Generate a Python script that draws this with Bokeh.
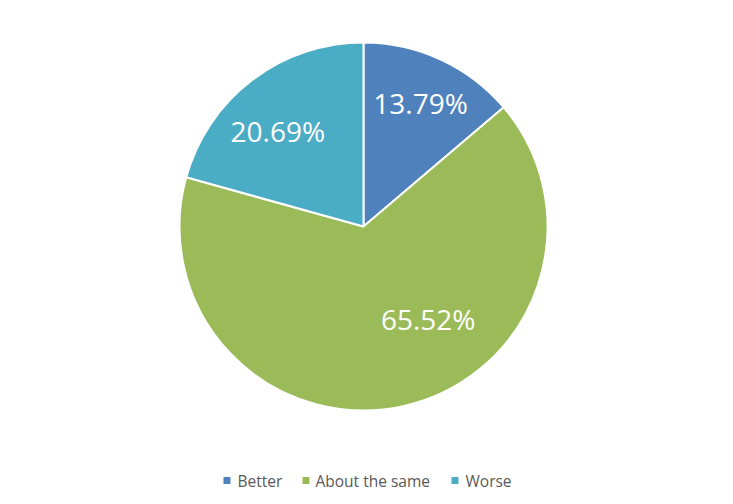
import math
from bokeh.plotting import figure
from bokeh.models import Range1d, ColumnDataSource
from bokeh.core.properties import value
from bokeh.embed import file_html
from bokeh.resources import INLINE

# ---- data ----
categories = ["Better", "About the same", "Worse"]
shares = [13.79, 65.52, 20.69]
colors = ["#4F81BD", "#9BBB59", "#4BACC6"]

# ---- layout ----
W, H = 733, 504
cx, cy, R = 363, 278, 184
label_r = [136, 113, 128]
label_shift_deg = [0.0, -22.5, -4.8]
legend_sq_x = [226.5, 305.5, 454.5]
legend_tx_x = [237, 315, 465]
legend_y = 24

total = sum(shares)
starts, ends, lx, ly, texts = [], [], [], [], []
acc = 0.0
for i, s in enumerate(shares):
    a0 = math.pi / 2 - 2 * math.pi * acc / total
    a1 = math.pi / 2 - 2 * math.pi * (acc + s) / total
    starts.append(a0)
    ends.append(a1)
    mid = (a0 + a1) / 2 - math.radians(label_shift_deg[i])
    lx.append(cx + label_r[i] * math.cos(mid))
    ly.append(cy + label_r[i] * math.sin(mid))
    texts.append(f"{s:.2f}%")
    acc += s

src = ColumnDataSource(dict(start=starts, end=ends, color=colors,
                            lx=lx, ly=ly, txt=texts,
                            sqx=legend_sq_x, txx=legend_tx_x,
                            legy=[legend_y] * 3, cat=categories))

p = figure(width=W, height=H, x_range=Range1d(0, W), y_range=Range1d(0, H),
           output_backend="svg", toolbar_location=None, min_border=0)
p.axis.visible = False
p.grid.visible = False
p.outline_line_color = None
p.background_fill_color = "white"
p.border_fill_color = "white"

p.wedge(x=cx, y=cy, radius=R, radius_units="screen", start_angle="start",
        end_angle="end", direction="clock", fill_color="color",
        line_color="white", line_width=2, source=src)

p.text(x="lx", y="ly", text="txt", source=src, text_color="white",
       text_font=value("Open Sans"), text_font_size="28px",
       text_align="center", text_baseline="middle")

p.scatter(x="sqx", y="legy", marker="square", size=7, fill_color="color",
          line_color=None, source=src)
p.text(x="txx", y="legy", text="cat", source=src, text_color="#595959",
       text_font=value("Open Sans"), text_font_size="15.5px",
       text_align="left", text_baseline="middle")

open("out.html", "w").write(file_html(p, INLINE))
